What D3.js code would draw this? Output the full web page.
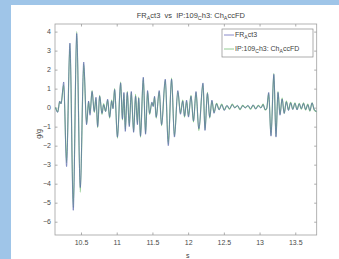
<!DOCTYPE html>
<html>
<head>
<meta charset="utf-8">
<script src="https://cdn.jsdelivr.net/npm/d3@7"></script>
<style>
  html, body { margin: 0; padding: 0; background: #9fc5e8; }
  svg { display: block; }
</style>
</head>
<body>
<div id="chart"></div>
<script>
// datos
var time = [10.142, 10.174, 10.202, 10.221, 10.258, 10.298, 10.345, 10.392, 10.440, 10.490,
            10.538, 10.578, 10.606, 10.626, 10.655, 10.686, 10.710, 10.733, 10.761, 10.794,
            10.817, 10.845, 10.873, 10.901, 10.929, 10.948, 10.971, 11.010, 11.055, 11.080,
            11.101, 11.120, 11.148, 11.176, 11.204, 11.237, 11.264, 11.290, 11.308, 11.333,
            11.372, 11.404, 11.432, 11.460, 11.493, 11.511, 11.530, 11.553, 11.595, 11.628,
            11.680, 11.722, 11.768, 11.808, 11.856, 11.892, 11.925, 11.950, 11.978, 12.005,
            12.040, 12.075, 12.110, 12.150, 12.208, 12.236, 12.270, 12.302, 12.333, 12.362,
            12.398, 12.434, 12.470, 12.506, 12.543, 12.580, 12.617, 12.654, 12.690, 12.727,
            12.764, 12.800, 12.837, 12.874, 12.910, 12.946, 12.982, 13.018, 13.050, 13.078,
            13.100, 13.128, 13.160, 13.200, 13.230, 13.258, 13.286, 13.316, 13.345, 13.375,
            13.405, 13.435, 13.465, 13.495, 13.525, 13.555, 13.585, 13.615, 13.645, 13.675,
            13.705, 13.735, 13.765, 13.800];

var frAct3 = [0.00, -0.25, 0.35, 0.20, 1.35, -3.10, 3.40, -5.40, 3.90, -4.20,
              2.40, -0.90, 0.35, -0.40, 0.85, -0.20, 0.55, -1.00, 0.60, -0.30,
              0.15, -0.20, 0.45, -0.50, 0.35, -0.05, 0.95, -1.55, 1.30, -0.60,
              0.80, -1.25, 0.80, -1.00, 0.85, -1.30, 0.60, -0.90, 0.50, -1.50,
              1.60, -1.40, 0.90, -0.30, 0.30, 0.05, 0.60, -0.50, 0.90, -0.90,
              1.50, -2.00, 1.50, -1.55, 0.90, -0.35, 0.35, -0.45, 0.40, -0.50,
              0.60, -0.70, 0.85, -1.10, 1.30, -1.20, 0.75, -0.50, 0.40, -0.30,
              0.20, -0.12, 0.15, -0.15, 0.12, -0.05, 0.15, -0.02, 0.12, -0.08,
              0.10, -0.02, 0.12, -0.05, 0.15, -0.08, 0.10, -0.02, 0.15, -0.10,
              -0.05, 0.80, -1.50, 1.75, -1.55, 0.80, -0.40, 0.45, -0.30, 0.30,
              -0.15, 0.25, -0.10, 0.22, -0.12, 0.20, -0.05, 0.22, -0.10, 0.15,
              -0.15, 0.25, -0.10, -0.20];

var chAccFD = [0.02, -0.22, 0.30, 0.22, 1.20, -2.90, 3.35, -5.25, 4.00, -4.45,
               2.30, -0.85, 0.30, -0.30, 0.90, -0.25, 0.50, -1.05, 0.65, -0.35,
               0.20, -0.20, 0.40, -0.55, 0.40, -0.05, 1.00, -1.60, 1.35, -0.65,
               0.75, -1.15, 0.85, -0.95, 0.80, -1.25, 0.70, -0.85, 0.55, -1.55,
               1.55, -1.35, 0.85, -0.35, 0.25, 0.10, 0.55, -0.55, 0.85, -0.95,
               1.45, -1.90, 1.55, -1.50, 0.85, -0.30, 0.40, -0.50, 0.35, -0.45,
               0.65, -0.75, 0.80, -1.20, 1.25, -1.15, 0.80, -0.55, 0.35, -0.25,
               0.22, -0.10, 0.18, -0.12, 0.10, -0.08, 0.18, 0.00, 0.10, -0.10,
               0.12, 0.00, 0.10, -0.08, 0.12, -0.05, 0.12, 0.00, 0.18, -0.12,
               -0.05, 0.75, -1.45, 1.80, -1.50, 0.85, -0.35, 0.50, -0.30, 0.35,
               -0.12, 0.28, -0.08, 0.25, -0.10, 0.22, -0.08, 0.25, -0.12, 0.18,
               -0.18, 0.25, -0.12, -0.22];

var xTicks = [10.5, 11, 11.5, 12, 12.5, 13, 13.5];
var yTicks = [-6, -5, -4, -3, -2, -1, 0, 1, 2, 3, 4];

var colorFR = "#5a68ae";
var colorCh = "#86c686";

var W = 339, H = 259;
var pLeft = 55, pRight = 316.7, pTop = 24, pBottom = 235;

var svg = d3.select("#chart")
            .append("svg")
            .attr("width", W)
            .attr("height", H);

// tarjeta blanca
svg.append("rect")
   .attr("x", 11)
   .attr("y", 5)
   .attr("width", W - 11)
   .attr("height", H - 5)
   .attr("fill", "#ffffff");

var x = d3.scaleLinear().domain([10.136, 13.80]).range([pLeft, pRight]);
var y = d3.scaleLinear().domain([-6.7, 4.4]).range([pBottom, pTop]);

var font = "Liberation Sans, Arial, sans-serif";

// ejes con ticks hacia adentro
var gx = svg.append("g")
            .attr("transform", "translate(0," + pBottom + ")")
            .call(d3.axisBottom(x).tickValues(xTicks).tickSize(-2.5).tickSizeOuter(0).tickPadding(5)
                  .tickFormat(function(d){ return d; }));
var gxTop = svg.append("g")
            .attr("transform", "translate(0," + pTop + ")")
            .call(d3.axisTop(x).tickValues(xTicks).tickSize(-2.5).tickSizeOuter(0).tickFormat(""));
var gy = svg.append("g")
            .attr("transform", "translate(" + pLeft + ",0)")
            .call(d3.axisLeft(y).tickValues(yTicks).tickSize(-2.5).tickSizeOuter(0).tickPadding(4));
var gyRight = svg.append("g")
            .attr("transform", "translate(" + pRight + ",0)")
            .call(d3.axisRight(y).tickValues(yTicks).tickSize(-2.5).tickSizeOuter(0).tickFormat(""));

[gx, gxTop, gy, gyRight].forEach(function(g){
  g.select(".domain").remove();
  g.selectAll(".tick line").attr("stroke", "#8a8a8a").attr("stroke-width", 0.7);
  g.selectAll(".tick text")
   .attr("fill", "#4a4a4a")
   .attr("font-family", font)
   .attr("font-size", 7);
});

// caja de la grafica
svg.append("rect")
   .attr("x", pLeft)
   .attr("y", pTop)
   .attr("width", pRight - pLeft)
   .attr("height", pBottom - pTop)
   .attr("fill", "none")
   .attr("stroke", "#a0a0a0")
   .attr("stroke-width", 0.8);

svg.append("clipPath")
   .attr("id", "clip")
   .append("rect")
   .attr("x", pLeft)
   .attr("y", pTop)
   .attr("width", pRight - pLeft)
   .attr("height", pBottom - pTop);

var line = d3.line()
             .x(function(d){ return x(d[0]); })
             .y(function(d){ return y(d[1]); })
             .curve(d3.curveMonotoneX);

var plot = svg.append("g").attr("clip-path", "url(#clip)");

plot.append("path")
    .datum(time.map(function(t, i){ return [t, chAccFD[i]]; }))
    .attr("d", line)
    .attr("fill", "none")
    .attr("stroke", colorCh)
    .attr("stroke-width", 1.2);

plot.append("path")
    .datum(time.map(function(t, i){ return [t, frAct3[i]]; }))
    .attr("d", line)
    .attr("fill", "none")
    .attr("stroke", colorFR)
    .attr("stroke-width", 0.85)
    .attr("stroke-opacity", 0.8);

// texto con subindices
function richText(g, parts, size){
  var t = g.append("text")
           .attr("font-family", font)
           .attr("font-size", size)
           .attr("fill", "#404040")
           .attr("xml:space", "preserve");
  var shift = 0;
  parts.forEach(function(p){
    var sub = p[1] === 1;
    var dy = (sub ? 2 : 0) - shift;
    shift = sub ? 2 : 0;
    t.append("tspan")
     .attr("dy", dy)
     .attr("font-size", sub ? size * 0.72 : size)
     .text(p[0]);
  });
  return t;
}

var titleParts = [["FR",0],["A",1],["ct3  vs  IP:109",0],["C",1],["h3: Ch",0],["A",1],["ccFD",0]];
richText(svg, titleParts, 7.5)
  .attr("x", (pLeft + pRight) / 2 + 5)
  .attr("y", 18)
  .attr("text-anchor", "middle");

svg.append("text")
   .attr("x", (pLeft + pRight) / 2 + 2)
   .attr("y", 257.5)
   .attr("text-anchor", "middle")
   .attr("font-family", font)
   .attr("font-size", 7)
   .attr("fill", "#404040")
   .text("s");

svg.append("text")
   .attr("transform", "translate(41,134) rotate(-90)")
   .attr("text-anchor", "middle")
   .attr("font-family", font)
   .attr("font-size", 7)
   .attr("fill", "#404040")
   .text("g/g");

// leyenda
var lg = svg.append("g");
lg.append("rect")
  .attr("x", 222)
  .attr("y", 29)
  .attr("width", 91)
  .attr("height", 28)
  .attr("fill", "#ffffff")
  .attr("stroke", "#8a8a8a")
  .attr("stroke-width", 0.7);

var entries = [
  {parts: [["FR",0],["A",1],["ct3",0]], color: "#7a7ec4", y: 35},
  {parts: [["IP:109",0],["C",1],["h3: Ch",0],["A",1],["ccFD",0]], color: colorCh, y: 49}
];

entries.forEach(function(e){
  lg.append("line")
    .attr("x1", 224)
    .attr("x2", 234)
    .attr("y1", e.y)
    .attr("y2", e.y)
    .attr("stroke", e.color)
    .attr("stroke-width", 0.9);
  richText(lg, e.parts, 7)
    .attr("x", 235)
    .attr("y", e.y + 2.3);
});
</script>
</body>
</html>
